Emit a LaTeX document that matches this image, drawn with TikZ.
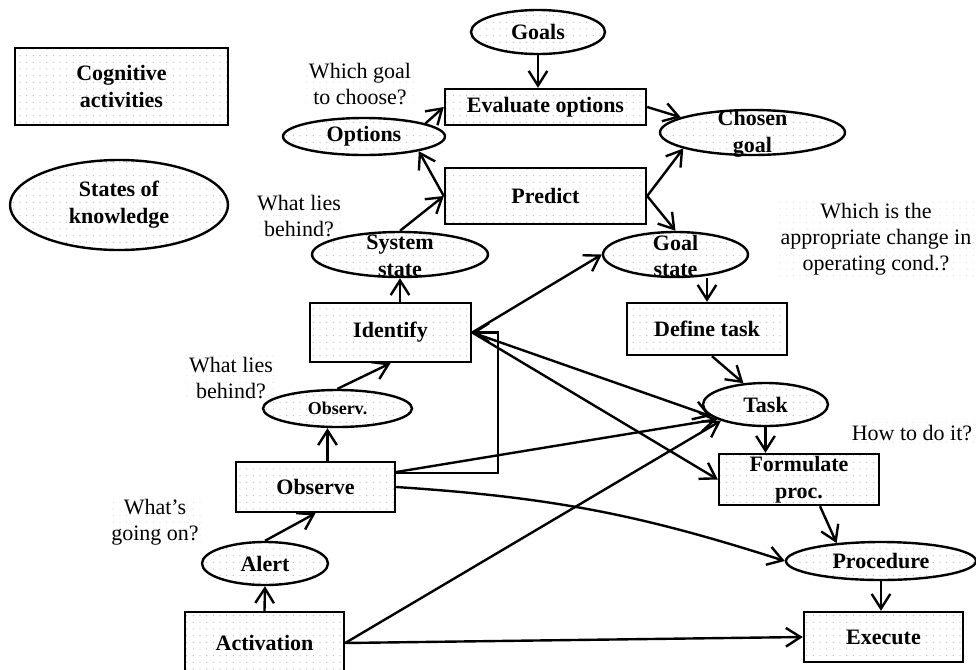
\documentclass[tikz,border=0pt]{standalone}
\usepackage{fontspec}
\setmainfont{Liberation Serif}
\usetikzlibrary{shapes.geometric,arrows.meta,patterns.meta,calc}

\tikzset{every picture/.style={line width=1.8pt}}
\tikzset{
  activity/.style={draw, rectangle, inner sep=0pt, align=center,
    font=\fontsize{16.5}{20}\selectfont\bfseries,
    pattern={Dots[distance=5pt,radius=0.45pt]}, pattern color=gray!55},
  knowledge/.style={activity, ellipse},
  twoline/.style={align=center, inner sep=0pt, font=\fontsize{16.5}{20}\selectfont\bfseries},
  query/.style={align=center, inner sep=2pt, font=\fontsize{16.5}{19.5}\selectfont,
    pattern={Dots[distance=5pt,radius=0.45pt]}, pattern color=gray!25},
  arr/.style={-{Straight Barb[length=11pt,width=14pt]}}
}

\begin{document}
\begin{tikzpicture}[x=0.75pt,y=0.75pt,yscale=-1,xscale=1]
\useasboundingbox (0,0) rectangle (976,669);

% Text Node
\node[activity, minimum width=159.75pt, minimum height=57.75pt] (legact) at (121.5,86.5) {Cognitive\\activities};
% Text Node
\node[knowledge, minimum width=163.5pt, minimum height=67.5pt] (legstate) at (119,205) {States of\\knowledge};
% Text Node
\node[knowledge, minimum width=100.5pt, minimum height=33pt] (goals) at (538,32) {Goals};
% Text Node
\node[activity, minimum width=150.75pt, minimum height=27pt] (evaluate) at (545.5,107) {Evaluate options};
% Text Node
\node[knowledge, minimum width=121.5pt, minimum height=27.75pt] (options) at (364,136.5) {Options};
% Text Node
\node[activity, minimum width=150.75pt, minimum height=42pt] (predict) at (545.5,196) {Predict};
% Text Node
\node[knowledge, minimum width=138.75pt, minimum height=33.75pt] (chosen) at (752.5,132.5) {};
\node[twoline] (chosenlbl) at ($(chosen)+(0,1.5)$) {Chosen\\goal};
% Text Node
\node[knowledge, minimum width=132pt, minimum height=33.75pt] (sysstate) at (400,254.5) {};
\node[twoline] (sysstatelbl) at ($(sysstate)+(0,1.5)$) {System\\state};
% Text Node
\node[knowledge, minimum width=108.75pt, minimum height=33.75pt] (goalstate) at (675.5,254.5) {};
\node[twoline] (goalstatelbl) at ($(goalstate)+(0,1.5)$) {Goal\\state};
% Text Node
\node[activity, minimum width=120.75pt, minimum height=44.25pt] (identify) at (390.5,332.5) {Identify};
% Text Node
\node[activity, minimum width=120pt, minimum height=39pt] (definetask) at (707,329) {Define task};
% Text Node
\node[knowledge, minimum width=111.75pt, minimum height=27.75pt, font=\fontsize{13.5}{16}\selectfont\bfseries] (observ) at (337.5,408.5) {Observ.};
% Text Node
\node[activity, minimum width=119.25pt, minimum height=37.5pt] (observe) at (315.5,487) {Observe};
% Text Node
\node[knowledge, minimum width=94.5pt, minimum height=32.25pt] (alert) at (265,563.5) {Alert};
% Text Node
\node[activity, minimum width=119.25pt, minimum height=46.5pt] (activation) at (264.5,643) {Activation};
% Text Node
\node[knowledge, minimum width=93.75pt, minimum height=32.25pt] (task) at (765.5,404.5) {Task};
% Text Node
\node[activity, minimum width=120pt, minimum height=38.25pt] (formulate) at (799,479.5) {Formulate\\proc.};
% Text Node
\node[knowledge, minimum width=142.5pt, minimum height=28.5pt] (procedure) at (881,561) {Procedure};
% Text Node
\node[activity, minimum width=119.25pt, minimum height=37.5pt] (execute) at (883.5,637) {Execute};

% Text Node
\node[query] (qgoal) at (360,84) {Which goal\\to choose?};
% Text Node
\node[query] (qsys) at (299,216) {What lies\\behind?};
% Text Node
\node[query] (qcond) at (876,239) {Which is the\\appropriate change in\\operating cond.?};
% Text Node
\node[query] (qobs) at (231,378) {What lies\\behind?};
% Text Node
\node[query] (qalert) at (155,522) {What’s\\going on?};
% Text Node
\node[query] (qproc) at (912,433) {How to do it?};

% Connection
\draw[arr] (goals.south) -- (goals.south |- evaluate.north);
% Connection
\draw[arr] (options.12) -- (evaluate.west);
% Connection
\draw[arr] (predict.west) -- (options.-15);
% Connection
\draw[arr] (sysstate.north) -- (predict.west);
% Connection
\draw[arr] (evaluate.east) -- (chosen.168);
% Connection
\draw[arr] (predict.east) -- (chosen.193);
% Connection
\draw[arr] (predict.east) -- (goalstate.north);
% Connection
\draw[arr] (identify.north -| sysstate.south) -- (sysstate.south);
% Connection
\draw[arr] (identify.east) -- (goalstate.west);
% Connection
\draw[arr] (goalstate.south -| definetask.north) -- (definetask.north);
% Connection
\draw[arr] ($(definetask.south)+(5,0)$) -- (task.136);
% Connection
\draw[arr] (identify.east) -- (task.192);
% Connection
\draw[arr] (identify.east) -- (formulate.west);
% Connection
\draw[arr] ($(observe.east)+(0,-14)$) -| ($(identify.east)+(26,0)$) -- (identify.east);
% Connection
\draw[arr] ($(observe.east)+(0,-15)$) -- (task.197);
% Connection
\draw[arr] (observe.east) to[bend right=7] (procedure.west);
% Connection
\draw[arr] ($(observe.north)+(12,0)$) -- ($(observ.south)+(-10,0)$);
% Connection
\draw[arr] (observ.north) -- (identify.south);
% Connection
\draw[arr] (alert.north) -- (observe.south);
% Connection
\draw[arr] (activation.north) -- (alert.south);
% Connection
\draw[arr] (activation.east) -- (task.200);
% Connection
\draw[arr] (activation.east) -- (execute.west);
% Connection
\draw[arr] (task.south) -- (task.south |- formulate.north);
% Connection
\draw[arr] ($(formulate.south)+(21,0)$) -- (procedure.158);
% Connection
\draw[arr] (procedure.south) -- (procedure.south |- execute.north);

\end{tikzpicture}
\end{document}
